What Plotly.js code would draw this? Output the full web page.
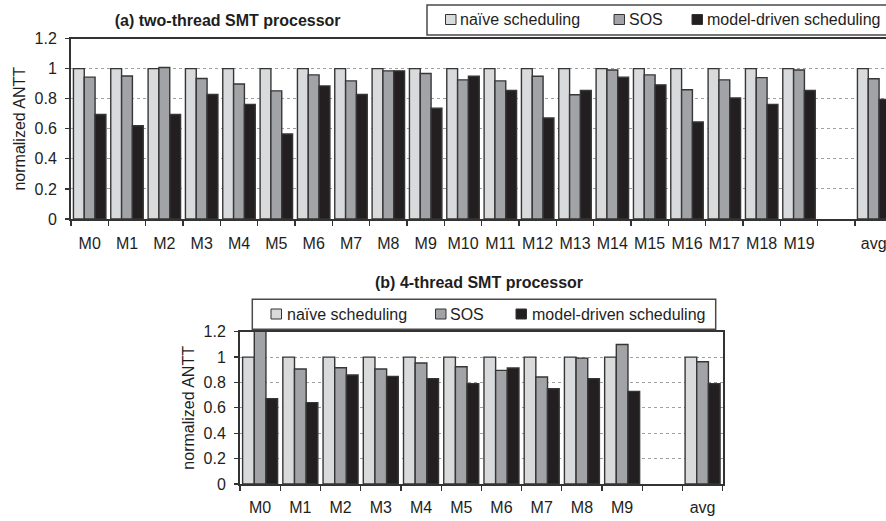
<!DOCTYPE html>
<html>
<head>
<meta charset="utf-8">
<script src="https://cdn.plot.ly/plotly-3.0.1.min.js"></script>
<style>html,body{margin:0;padding:0;background:#fff;}#chart{width:886px;height:521px;}</style>
</head>
<body>
<div id="chart"></div>
<script>
// ---- data ----
var seriesNames = ['naïve scheduling', 'SOS', 'model-driven scheduling'];

var catsA = ['M0','M1','M2','M3','M4','M5','M6','M7','M8','M9','M10','M11','M12','M13','M14','M15','M16','M17','M18','M19',' ','avg'];
var naiveA = [1,1,1,1,1,1,1,1,1,1,1,1,1,1,1,1,1,1,1,1,null,1];
var sosA = [0.943,0.951,1.007,0.934,0.898,0.852,0.958,0.918,0.985,0.967,0.925,0.918,0.949,0.826,0.991,0.958,0.859,0.925,0.940,0.991,null,0.932];
var modelA = [0.695,0.620,0.695,0.828,0.762,0.565,0.885,0.828,0.985,0.737,0.949,0.854,0.671,0.854,0.943,0.892,0.645,0.804,0.762,0.854,null,0.795];

var catsB = ['M0','M1','M2','M3','M4','M5','M6','M7','M8','M9',' ','avg'];
var naiveB = [1,1,1,1,1,1,1,1,1,1,null,1];
var sosB = [1.25,0.906,0.916,0.906,0.953,0.924,0.895,0.843,0.992,1.099,null,0.963];
var modelB = [0.673,0.641,0.859,0.848,0.830,0.791,0.914,0.751,0.830,0.730,null,0.791];

var titleA = '(a) two-thread SMT processor';
var titleB = '(b) 4-thread SMT processor';
var yTitle = 'normalized ANTT';

// ---- styling ----
var W = 886, H = 521;
function px(x){ return x / W; }
function py(y){ return 1 - y / H; }
var fills = ['#d9dadc', '#a2a3a6', '#231f20'];
var outline = '#363636';
var FONT = 'Liberation Sans, Arial, sans-serif';
var TXT = '#1e1e1e';

var valsA = [naiveA, sosA, modelA];
var valsB = [naiveB, sosB, modelB];
var traces = [];
for (var i = 0; i < 3; i++) {
  traces.push({type:'bar', name: seriesNames[i], x: catsA, y: valsA[i], xaxis:'x', yaxis:'y',
    marker:{color: fills[i], line:{color: outline, width: 1.4}}, showlegend:false, hoverinfo:'skip'});
}
for (var i = 0; i < 3; i++) {
  traces.push({type:'bar', name: seriesNames[i], x: catsB, y: valsB[i], xaxis:'x2', yaxis:'y2',
    marker:{color: fills[i], line:{color: outline, width: 1.4}}, showlegend:false, hoverinfo:'skip'});
}

function xax(domain, range, anchor, standoff){
  return {domain: domain, range: range, type:'category', anchor: anchor,
    tickson:'boundaries', ticks:'outside', ticklen:5, tickwidth:1.2, tickcolor:'#333',
    showline:true, linecolor:'#333', linewidth:1.5, mirror:true, showgrid:false,
    tickangle:0, automargin:false,
    tickfont:{family:FONT, size:16, color:TXT}, ticklabelstandoff: standoff, fixedrange:true};
}
function yax(domain, anchor, standoff){
  return {domain: domain, range:[0,1.2], anchor: anchor, dtick:0.2, tick0:0,
    ticks:'outside', ticklen:4, tickwidth:1.2, tickcolor:'#333',
    showline:true, linecolor:'#333', linewidth:2, mirror:true, zeroline:false,
    showgrid:true, gridcolor:'#a0a0a0', griddash:'dot', gridwidth:1,
    tickfont:{family:FONT, size:16, color:TXT}, ticklabelstandoff:5, automargin:false,
    title:{text: yTitle, font:{family:FONT, size:16, color:TXT}, standoff: standoff}, fixedrange:true};
}

// manual legends (box + swatches + labels) built from the series names
var shapes = [], annotations = [];
function legend(box, swX, txX, cy){
  shapes.push({type:'rect', xref:'paper', yref:'paper', x0:px(box[0]), x1:px(box[1]), y0:py(box[2]), y1:py(box[3]),
    line:{color:'#4a4a4a', width:1.5}, fillcolor:'#fff', layer:'above'});
  for (var i = 0; i < 3; i++) {
    shapes.push({type:'rect', xref:'paper', yref:'paper', x0:px(swX[i]), x1:px(swX[i]+10.5), y0:py(cy-5), y1:py(cy+5),
      line:{color:'#333', width:1}, fillcolor: fills[i], layer:'above'});
    annotations.push({xref:'paper', yref:'paper', x:px(txX[i]), y:py(cy), xanchor:'left', yanchor:'middle',
      text: seriesNames[i], showarrow:false, font:{family:FONT, size:16, color:TXT}});
  }
}
legend([427, 905, 5, 35], [445.5, 614, 692], [458, 627, 705], 19.5);
legend([252.3, 715.7, 299.3, 329.3], [271, 435.5, 516], [284.5, 448.5, 529.5], 314);

annotations.push({xref:'paper', yref:'paper', x:px(479), y:py(282), xanchor:'center', yanchor:'middle',
  text:'<b>' + titleB + '</b>', showarrow:false, font:{family:FONT, size:16, color:TXT}});

var layout = {
  width: W, height: H, margin:{l:0, r:0, t:0, b:0}, paper_bgcolor:'#fff', plot_bgcolor:'#fff',
  title:{text:'<b>' + titleA + '</b>', x: px(227.7), xanchor:'center', y: py(20), yanchor:'middle',
    font:{family:FONT, size:16, color:TXT}},
  barmode:'group', bargap:0.13, bargroupgap:0,
  xaxis: xax([px(71), 1], [-0.5, 21.33], 'y', 9),
  yaxis: yax([py(219), py(38.5)], 'x', 5),
  xaxis2: xax([px(240), px(722.7)], [-0.5, 11.5], 'y2', 8),
  yaxis2: yax([py(484), py(331.7)], 'x2', 5),
  shapes: shapes, annotations: annotations, showlegend:false
};

Plotly.newPlot('chart', traces, layout, {staticPlot:true, displayModeBar:false});
</script>
</body>
</html>
